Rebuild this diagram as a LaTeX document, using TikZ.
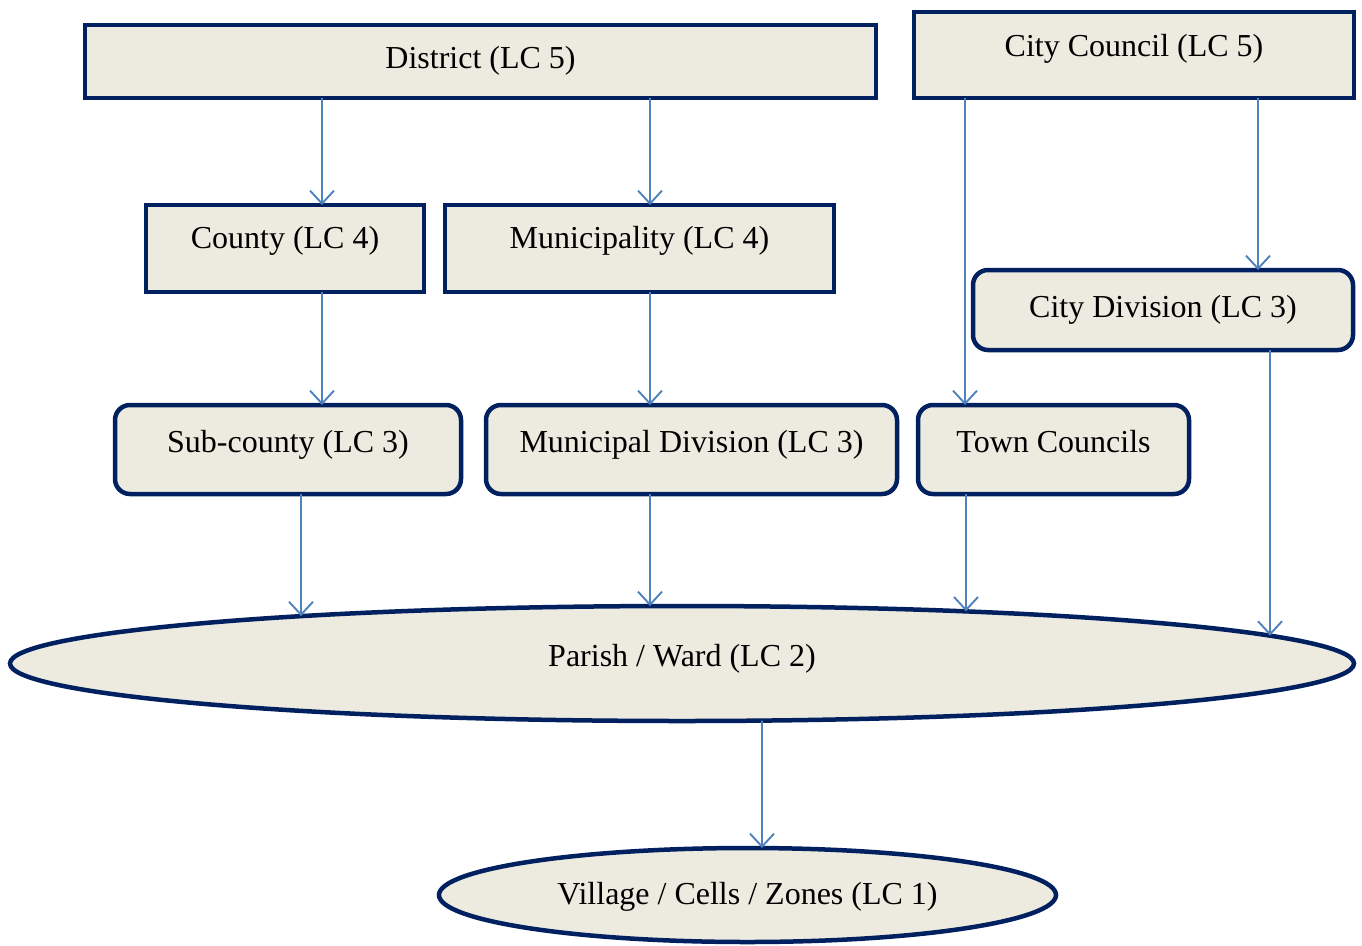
\documentclass[tikz,border=0pt]{standalone}
\usepackage{fontspec}
\setmainfont{Liberation Serif}
\usetikzlibrary{arrows.meta,shapes.geometric,intersections}
\definecolor{boxfill}{HTML}{EDEBE0}
\definecolor{boxline}{HTML}{002060}
\definecolor{linkblue}{HTML}{4F81BD}
\tikzset{
  unit/.style={draw=boxline, fill=boxfill, line width=4.5pt, inner sep=0pt, outer sep=0pt,
    font=\fontsize{32}{36}\selectfont, text height=22pt},
  sqbox/.style={unit, rectangle},
  rdbox/.style={unit, rectangle, rounded corners=15pt},
  ovbox/.style={unit, ellipse},
  link/.style={draw=linkblue, line width=1.9pt,
    -{Straight Barb[length=13pt,width=24pt,line width=1.9pt]}}
}
\begin{document}
\begin{tikzpicture}[x=1pt,y=-1pt]
\useasboundingbox (0,0) rectangle (1362,945);

% level 5
\node[sqbox, minimum width=791pt, minimum height=73pt, text depth=9pt] (district) at (480.5,61.5) {District (LC 5)};
\node[sqbox, minimum width=440pt, minimum height=86pt, text depth=20pt] (council) at (1134,55) {City Council (LC 5)};

% level 4
\node[sqbox, minimum width=278pt, minimum height=87pt, text depth=22pt] (county) at (285,248.5) {County (LC 4)};
\node[sqbox, minimum width=389pt, minimum height=87pt, text depth=22pt] (munic) at (639.5,248.5) {Municipality (LC 4)};

% level 3
\node[rdbox, minimum width=380pt, minimum height=80pt, text depth=8pt] (citydiv) at (1163,310) {City Division (LC 3)};
\node[rdbox, minimum width=346pt, minimum height=89pt, text depth=17pt] (subcounty) at (288,449.5) {Sub-county (LC 3)};
\node[rdbox, minimum width=411pt, minimum height=89pt, text depth=17pt] (municdiv) at (691.5,449.5) {Municipal Division (LC 3)};
\node[rdbox, minimum width=271pt, minimum height=89pt, text depth=17pt] (town) at (1053.5,449.5) {Town Councils};

% levels 2 and 1
\node[ovbox, name path=parishrim, minimum width=1344pt, minimum height=115pt, text depth=16pt] (parish) at (682,663.5) {Parish / Ward (LC 2)};
\node[ovbox, minimum width=617pt, minimum height=94pt, text depth=4pt] (village) at (747.5,895) {Village / Cells / Zones (LC 1)};

% links from level 5
\draw[link] (district.south -| 322,0) -- (county.north -| 322,0);
\draw[link] (district.south -| 650,0) -- (munic.north -| 650,0);
\draw[link] (council.south -| 965,0) -- (town.north -| 965,0);
\draw[link] (council.south -| 1258,0) -- (citydiv.north -| 1258,0);

% links from level 4
\draw[link] (county.south -| 322,0) -- (subcounty.north -| 322,0);
\draw[link] (munic.south -| 650,0) -- (municdiv.north -| 650,0);

% links into the parish level, each ending where it meets the ellipse rim
\path[name path=dropA] (subcounty.south -| 301,0) -- ++(0,200);
\path[name path=dropB] (municdiv.south -| 650,0) -- ++(0,200);
\path[name path=dropC] (town.south -| 966,0) -- ++(0,200);
\path[name path=dropD] (citydiv.south -| 1270,0) -- ++(0,300);
\draw[link, name intersections={of=dropA and parishrim, name=ia}] (subcounty.south -| 301,0) -- (ia-1);
\draw[link, name intersections={of=dropB and parishrim, name=ib}] (municdiv.south -| 650,0) -- (ib-1);
\draw[link, name intersections={of=dropC and parishrim, name=ic}] (town.south -| 966,0) -- (ic-1);
\draw[link, name intersections={of=dropD and parishrim, name=id}] (citydiv.south -| 1270,0) -- (id-1);

% parish to village
\path[name path=dropE] (village.north -| 762,0) -- ++(0,-150);
\draw[link, name intersections={of=dropE and parishrim, name=ie}] (ie-1) -- (village.north -| 762,0);
\end{tikzpicture}
\end{document}
